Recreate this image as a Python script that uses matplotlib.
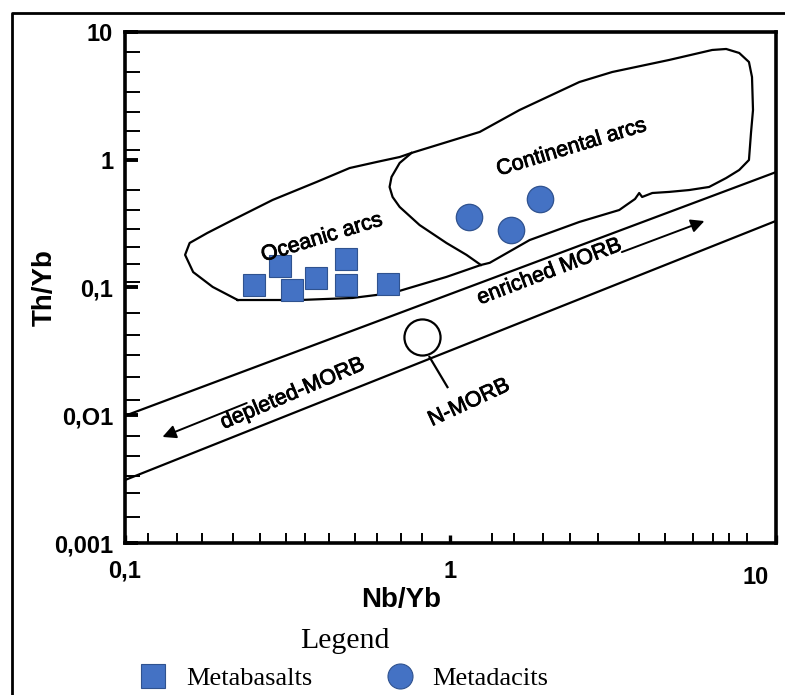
import matplotlib
matplotlib.use("Agg")
import matplotlib.pyplot as plt
import matplotlib.patheffects as pe
from matplotlib.lines import Line2D

plt.rcParams['font.family'] = ['Liberation Sans', 'DejaVu Sans']

# sample data (Nb/Yb, Th/Yb)
basalt_nb = [0.249, 0.299, 0.325, 0.386, 0.477, 0.477, 0.641]
basalt_th = [0.105, 0.147, 0.0955, 0.119, 0.167, 0.105, 0.106]
dacite_nb = [1.14, 1.53, 1.89]
dacite_th = [0.356, 0.282, 0.493]

# N-MORB reference point
nmorb_nb = 0.82
nmorb_th = 0.041

# MORB-OIB array boundaries
array_nb = [0.1, 10]
array_upper = [0.0099, 0.80]
array_lower = [0.00311, 0.332]

# volcanic arc envelope (oceanic + continental)
arc_nb = [0.222, 0.186, 0.162, 0.153, 0.158, 0.179, 0.214, 0.284, 0.388, 0.490,
          0.593, 0.698, 0.759, 1.23, 1.63, 2.49, 3.14, 4.70, 6.37, 7.03,
          7.71, 8.26, 8.44, 8.50, 8.38, 8.26, 7.71, 7.03, 6.23, 5.41,
          4.70, 4.17, 3.88, 3.80, 3.69, 3.47, 3.30, 2.49, 1.75, 1.32,
          1.24, 0.972, 0.766, 0.664, 0.500, 0.344, 0.222]
arc_th = [0.0798, 0.101, 0.132, 0.180, 0.223, 0.267, 0.337, 0.484, 0.670, 0.861,
          0.960, 1.05, 1.13, 1.65, 2.45, 4.06, 4.86, 6.04, 7.23, 7.36,
          6.85, 5.82, 4.44, 2.45, 1.62, 0.995, 0.831, 0.719, 0.612, 0.579,
          0.560, 0.549, 0.511, 0.549, 0.493, 0.442, 0.404, 0.326, 0.235, 0.156,
          0.150, 0.121, 0.101, 0.0906, 0.0828, 0.0798, 0.0798]

# boundary between oceanic and continental arcs
divide_nb = [0.759, 0.698, 0.659, 0.650, 0.664, 0.698, 0.804, 0.972, 1.12, 1.24]
divide_th = [1.13, 0.943, 0.733, 0.612, 0.511, 0.427, 0.308, 0.223, 0.180, 0.150]

# trend arrows (start, tip)
depleted_arrow = [(0.241, 0.0127), (0.128, 0.00664)]
enriched_arrow = [(3.30, 0.186), (6.14, 0.337)]
nmorb_leader_nb = [0.862, 0.979]
nmorb_leader_th = [0.0286, 0.0166]

xminor = [0.118, 0.144, 0.172, 0.215, 0.260, 0.312, 0.357, 0.423, 0.508, 0.593,
          0.703, 0.815, 1.34, 1.57, 1.93, 2.33, 2.84, 3.80, 4.57, 5.57, 6.41, 7.17, 8.15]
yminor = [6.97, 4.86, 3.39, 2.36, 1.68, 1.19,
          0.580, 0.404, 0.287, 0.207, 0.153, 0.110,
          0.0632, 0.0425, 0.0296, 0.0199, 0.0132,
          0.00688, 0.00480, 0.00335, 0.00246, 0.00160]
yticks = [0.001, 0.01, 0.1, 1, 10]
ytick_labels = ['0,001', '0,O1', '0,1', '1', '10']

blue = '#4472C4'
edge = '#2F528F'

fig = plt.figure(figsize=(7.85, 6.95), dpi=100)
ax = fig.add_axes([0.1592, 0.2187, 0.8293, 0.7353])
ax.set_xscale('log')
ax.set_yscale('log')
ax.set_xlim(0.1, 10)
ax.set_ylim(0.001, 10)

# envelopes and array
ax.plot(arc_nb, arc_th, color='k', lw=1.6, solid_joinstyle='round')
ax.plot(divide_nb, divide_th, color='k', lw=1.6, solid_joinstyle='round')
ax.plot(array_nb, array_upper, color='k', lw=1.6)
ax.plot(array_nb, array_lower, color='k', lw=1.6)
ax.plot(nmorb_leader_nb, nmorb_leader_th, color='k', lw=1.6)
ax.plot([nmorb_nb], [nmorb_th], 'o', ms=26, mfc='white', mec='k', mew=1.6)

for start, tip in [depleted_arrow, enriched_arrow]:
    ax.annotate('', xy=tip, xytext=start,
                arrowprops=dict(arrowstyle='-|>', color='k', lw=1.4, mutation_scale=20))

# samples
ax.plot(basalt_nb, basalt_th, 's', ms=16.5, mfc=blue, mec=edge, mew=0.8, ls='none')
ax.plot(dacite_nb, dacite_th, 'o', ms=19, mfc=blue, mec=edge, mew=0.9, ls='none')

# field labels (slightly heavier than regular weight)
thick = [pe.withStroke(linewidth=0.6, foreground='k')]
field_labels = [(0.402, 0.244, 'Oceanic arcs', 17),
                (2.35, 1.24, 'Continental arcs', 17),
                (2.01, 0.132, 'enriched MORB', 21),
                (0.327, 0.0147, 'depleted-MORB', 23),
                (1.14, 0.0125, 'N-MORB', 25)]
for fx, fy, txt, rot in field_labels:
    ax.text(fx, fy, txt, fontsize=15.5, rotation=rot, ha='center', va='center',
            path_effects=thick)

# axes styling
for side in ['left', 'bottom', 'top', 'right']:
    ax.spines[side].set_linewidth(2.6)

ax.set_xticks([0.1, 1, 10])
ax.set_xticklabels(['0,1', '1', ''])
ax.set_xticks(xminor, minor=True)
ax.set_xticklabels([], minor=True)
ax.set_yticks(yticks)
ax.set_yticklabels(ytick_labels)
ax.set_yticks(yminor, minor=True)
ax.set_yticklabels([], minor=True)

ax.tick_params(axis='both', which='both', direction='in')
ax.tick_params(axis='x', which='major', length=6, width=2.4, pad=12, labelsize=17)
ax.tick_params(axis='x', which='minor', length=7, width=1.4)
ax.tick_params(axis='y', which='major', length=9, width=2.8, pad=8.5, labelsize=17)
ax.tick_params(axis='y', which='minor', length=11, width=1.4)
for lab in ax.get_xticklabels() + ax.get_yticklabels():
    lab.set_fontweight('bold')

ax.annotate('10', xy=(10, 0), xycoords=('data', 'axes fraction'), xytext=(-20, -34),
            textcoords='offset pixels', ha='center', va='center', fontsize=17, fontweight='bold')

ax.set_xlabel('Nb/Yb', fontsize=20, fontweight='bold')
ax.xaxis.set_label_coords(0.424, -0.086)
ax.xaxis.label.set_va('top')
ax.set_ylabel('Th/Yb', fontsize=20, fontweight='bold')
ax.yaxis.set_label_coords(-0.103, 0.5)

# outer frame (left and top edges visible)
fig.add_artist(Line2D([0.0153, 0.0153, 1.0], [0.0, 0.9813, 0.9813],
                      transform=fig.transFigure, color='k', lw=2))

# legend
handles = [Line2D([], [], marker='s', ms=17, mfc=blue, mec=edge, mew=0.8, ls='none'),
           Line2D([], [], marker='o', ms=18, mfc=blue, mec=edge, mew=0.8, ls='none')]
fig.legend(handles, ['Metabasalts', 'Metadacits'], loc='center',
           bbox_to_anchor=(345 / 785, 1 - 659 / 695), ncol=2, frameon=False,
           title='Legend', prop={'family': 'Liberation Serif', 'size': 19},
           title_fontproperties={'family': 'Liberation Serif', 'size': 21.5},
           handlelength=0.9, handletextpad=0.8, columnspacing=2.85, labelspacing=0.5)

fig.savefig('out.png', dpi=100)
